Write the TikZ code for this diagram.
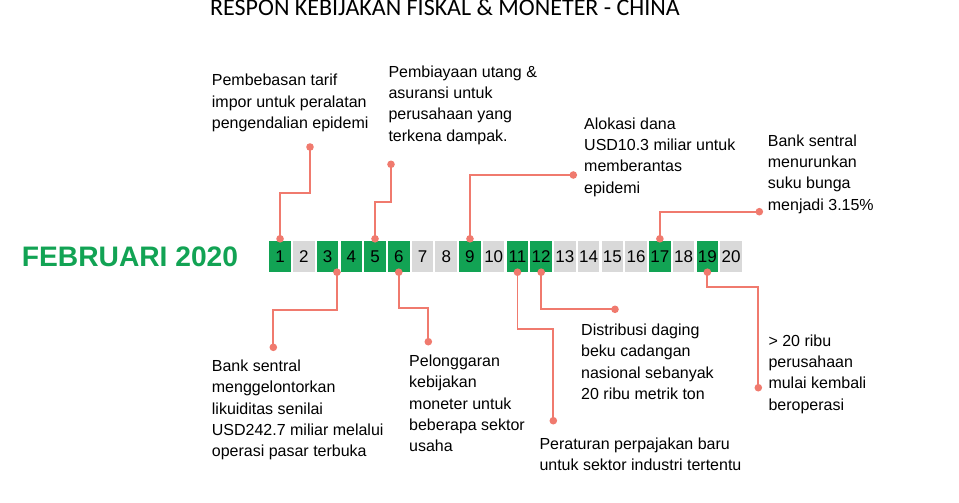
\documentclass[tikz,border=0pt]{standalone}
\usepackage{fontspec}
\setmainfont{Liberation Sans}
\newfontfamily\titlefont{Carlito}
\definecolor{grn}{RGB}{18,163,84}
\definecolor{gry}{RGB}{217,217,217}
\definecolor{coral}{RGB}{240,122,110}
\begin{document}
\begin{tikzpicture}[x=1pt,y=-1pt,
 day/.style={minimum width=21.5pt,minimum height=31pt,inner sep=0pt,font=\fontsize{17}{17}\selectfont,text=black},
 dayon/.style={day,fill=grn},
 dayoff/.style={day,fill=gry},
 lead/.style={draw=coral,line width=1.8pt},
 txt/.style={anchor=base west,align=left,inner sep=0pt,font=\fontsize{16}{21.3}\selectfont},
 ]
\useasboundingbox (0,0) rectangle (959,503);
\node[anchor=base west,inner sep=0pt] (title) at (210,16) {\titlefont\fontsize{24}{24}\selectfont RESPON KEBIJAKAN FISKAL \& MONETER - CHINA};
\node[anchor=base west,inner sep=0pt,text=grn] (month) at (21.7,266.7) {\fontsize{28.2}{28.2}\selectfont\bfseries FEBRUARI 2020};
\foreach \k in {1,3,4,5,6,9,11,12,17,19} \node[dayon] (d\k) at ({280.05+(\k-1)*23.74},256.5) {\k};
\foreach \k in {2,7,8,10,13,14,15,16,18,20} \node[dayoff] (d\k) at ({280.05+(\k-1)*23.74},256.5) {\k};
% texts (anchored at the baseline of their last line)
\node[txt] (t1) at (211.7,128.5) {Pembebasan tarif\\impor untuk peralatan\\pengendalian epidemi};
\node[txt] (t5) at (388.3,141.2) {Pembiayaan utang \&\\asuransi untuk\\perusahaan yang\\terkena dampak.};
\node[txt] (t9) at (584,193) {Alokasi dana\\USD10.3 miliar untuk\\memberantas\\epidemi};
\node[txt] (t17) at (767.7,210) {Bank sentral\\menurunkan\\suku bunga\\menjadi 3.15\%};
\node[txt] (t3) at (211.7,456.7) {Bank sentral\\menggelontorkan\\likuiditas senilai\\USD242.7 miliar melalui\\operasi pasar terbuka};
\node[txt] (t6) at (409,451.7) {Pelonggaran\\kebijakan\\moneter untuk\\beberapa sektor\\usaha};
\node[txt] (t12) at (581,399.3) {Distribusi daging\\beku cadangan\\nasional sebanyak\\20 ribu metrik ton};
\node[txt] (t11) at (539.3,470.7) {Peraturan perpajakan baru\\untuk sektor industri tertentu};
\node[txt] (t19) at (768.3,410) {> 20 ribu\\perusahaan\\mulai kembali\\beroperasi};
% connector ends
\foreach \k in {1,5,9,17} \coordinate (a\k) at ([yshift=2pt]d\k.north);
\foreach \k in {6,11,12,19} \coordinate (a\k) at (d\k.south);
\coordinate (a3) at ([xshift=-1.5pt]d3.south east);
\coordinate (b1) at (310,147);
\coordinate (b5) at (391,164.3);
\coordinate (b9) at (573.3,175);
\coordinate (b17) at (759.3,211.7);
\coordinate (b3) at (273.3,347.3);
\coordinate (b6) at (428.3,341.7);
\coordinate (b11) at (553.3,420.7);
\coordinate (b12) at (615,309.3);
\coordinate (b19) at (758.3,387.7);
\draw[lead] (a1) -- (a1 |- 0,193.3) -| (b1);
\draw[lead] (a5) -- (a5 |- 0,201.7) -| (b5);
\draw[lead] (a9) |- (b9);
\draw[lead] (a17) |- (b17);
\draw[lead] (a3) -- (a3 |- 0,310) -| (b3);
\draw[lead] (a6) -- (a6 |- 0,308.3) -| (b6);
\draw[lead] (a11) -- (a11 |- 0,329.3) -| (b11);
\draw[lead] (a12) |- (b12);
\draw[lead] (a19) -- (a19 |- 0,287.3) -| (b19);
\foreach \k in {1,3,5,6,9,11,12,17,19} {
  \fill[coral] (a\k) circle (3.8);
  \fill[coral] (b\k) circle (3.8);
}
\end{tikzpicture}
\end{document}
